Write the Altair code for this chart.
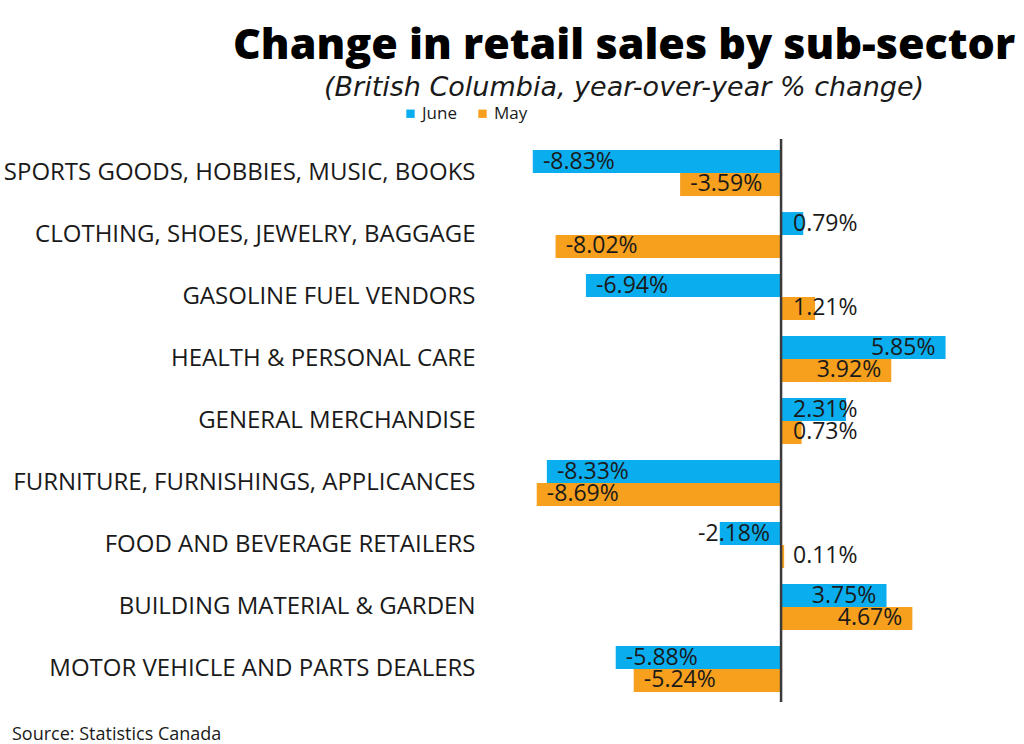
import altair as alt
import pandas as pd

categories = [
    "SPORTS GOODS, HOBBIES, MUSIC, BOOKS",
    "CLOTHING, SHOES, JEWELRY, BAGGAGE",
    "GASOLINE FUEL VENDORS",
    "HEALTH & PERSONAL CARE",
    "GENERAL MERCHANDISE",
    "FURNITURE, FURNISHINGS, APPLICANCES",
    "FOOD AND BEVERAGE RETAILERS",
    "BUILDING MATERIAL & GARDEN",
    "MOTOR VEHICLE AND PARTS DEALERS",
]
june = [-8.83, 0.79, -6.94, 5.85, 2.31, -8.33, -2.18, 3.75, -5.88]
may = [-3.59, -8.02, 1.21, 3.92, 0.73, -8.69, 0.11, 4.67, -5.24]
months = ["June", "May"]
colors = ["#0AAEEF", "#F6A01E"]

rows = []
for c, j, m in zip(categories, june, may):
    rows.append({"category": c, "month": "June", "value": j})
    rows.append({"category": c, "month": "May", "value": m})
df = pd.DataFrame(rows)

FONT = "Open Sans"
LBL = "(datum.value < 0 ? '-' : '') + format(abs(datum.value), '.2f') + '%'"
xscale = alt.Scale(domain=[-9, 8], nice=False, zero=False)
yenc = alt.Y("category:N", sort=categories,
             scale=alt.Scale(paddingInner=0.26, paddingOuter=0.13),
             axis=alt.Axis(title=None, domain=False, ticks=False, labelFont=FONT,
                           labelFontSize=24, labelColor="#1a1a1a", labelPadding=53,
                           labelLimit=600))
yoff = alt.YOffset("month:N", sort=months, scale=alt.Scale(paddingInner=0, paddingOuter=0))

base = alt.Chart(df)

bars = base.mark_bar().encode(
    x=alt.X("value:Q", scale=xscale, axis=None),
    y=yenc,
    yOffset=yoff,
    color=alt.Color("month:N", sort=months,
                    scale=alt.Scale(domain=months, range=colors),
                    legend=alt.Legend(title=None, orient="none", direction="horizontal",
                                      legendX=-126, legendY=-37, symbolType="square",
                                      symbolSize=70, labelFont=FONT, labelFontSize=17,
                                      labelOffset=3, labelColor="#1a1a1a", columnPadding=17,
                                      symbolOpacity=1)),
)

pos_labels = base.transform_filter("datum.value >= 0").transform_calculate(
    lx="max(datum.value - 0.36, 2.72)", lbl=LBL,
).mark_text(align="right", baseline="middle", font=FONT, fontSize=23, color="#1a1a1a").encode(
    x=alt.X("lx:Q", scale=xscale, axis=None), y=yenc, yOffset=yoff, text="lbl:N")

neg_labels = base.transform_filter("datum.value < 0").transform_calculate(
    lx="min(datum.value + 0.36, -2.95)", lbl=LBL,
).mark_text(align="left", baseline="middle", font=FONT, fontSize=23, color="#1a1a1a").encode(
    x=alt.X("lx:Q", scale=xscale, axis=None), y=yenc, yOffset=yoff, text="lbl:N")

zero = alt.Chart(pd.DataFrame({"z": [0]})).mark_rule(color="#3a3a3a", strokeWidth=2.5).encode(
    x=alt.X("z:Q", scale=xscale, axis=None), y=alt.value(-3), y2=alt.value(560))

source = alt.Chart(pd.DataFrame({"t": ["Source: Statistics Canada"]})).mark_text(
    align="left", baseline="alphabetic", font=FONT, fontSize=18, color="#1a1a1a").encode(
    x=alt.value(-516), y=alt.value(598), text="t:N")

chart = alt.layer(bars, zero, pos_labels, neg_labels, source).properties(
    width=478, height=558,
    background="white",
    autosize=alt.AutoSizeParams(type="none"),
    padding={"left": 528, "top": 142, "right": 18, "bottom": 44},
    title=alt.Title(
        "Change in retail sales by sub-sector",
        subtitle="(British Columbia, year-over-year % change)",
        anchor="middle", dx=-143, offset=4,
        font=FONT, fontSize=43, fontWeight=800, color="#000000",
        subtitleFont="DejaVu Sans", subtitleFontSize=27, subtitleFontStyle="italic",
        subtitleFontWeight=300, subtitleColor="#1a1a1a", subtitlePadding=7,
    ),
).configure_view(strokeWidth=0)

chart.save("out.html", embed_options={"renderer": "svg", "actions": False})
